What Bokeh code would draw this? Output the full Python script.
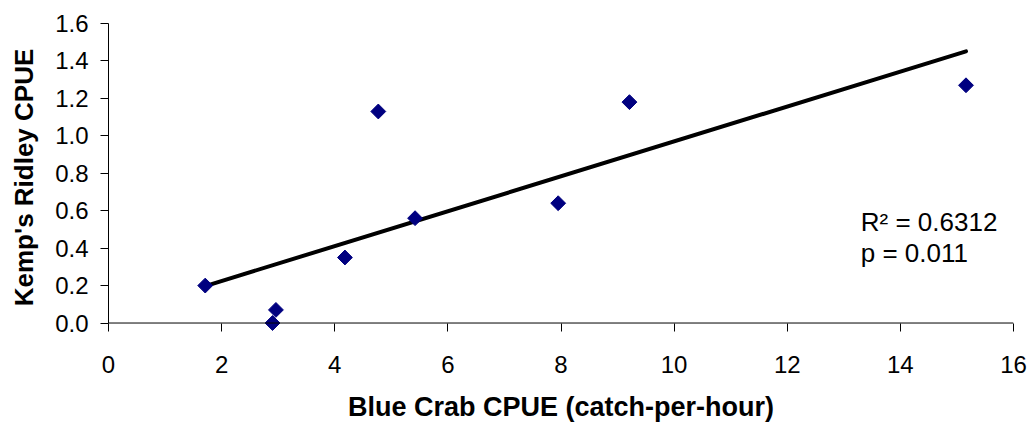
import numpy as np
from bokeh.plotting import figure
from bokeh.models import FixedTicker, NumeralTickFormatter, Range1d, Label, Span
from bokeh.embed import file_html
from bokeh.resources import INLINE

# Blue crab CPUE vs. Kemp's ridley CPUE
crab_cpue = [1.71, 2.90, 2.96, 4.18, 4.77, 5.42, 7.95, 9.21, 15.16]
ridley_cpue = [0.20, 0.00, 0.07, 0.35, 1.13, 0.56, 0.64, 1.18, 1.27]

x_ticks = [0, 2, 4, 6, 8, 10, 12, 14, 16]
y_ticks = [0.0, 0.2, 0.4, 0.6, 0.8, 1.0, 1.2, 1.4, 1.6]

r2_text = "R\u00b2 = 0.6312"
p_text = "p = 0.011"

FONT = "Liberation Sans"

# the y range dips a little below zero so markers sitting on zero are not cut;
# the visible x axis line is drawn at y = 0 and the ticks reach up to it
y_floor = -0.0453
p = figure(
    frame_width=905, frame_height=308,
    min_border_left=108, min_border_top=23, min_border_right=18, min_border_bottom=92,
    x_range=Range1d(0, 16), y_range=Range1d(y_floor, 1.6),
    output_backend="svg", toolbar_location=None, tools="",
    background_fill_color="white", border_fill_color="white",
)
p.outline_line_color = None
p.grid.visible = False

p.add_layout(Span(location=0, dimension="width", line_color="black", line_width=1))

# least-squares trend line over the observed range
slope, intercept = np.polyfit(crab_cpue, ridley_cpue, 1)
xs = [min(crab_cpue), max(crab_cpue)]
ys = [slope * v + intercept for v in xs]
p.line(xs, ys, line_color="black", line_width=4, line_cap="round")

p.scatter(crab_cpue, ridley_cpue, marker="square", angle=np.pi / 4, size=10.5,
          fill_color="#000080", line_color="#000080")

for ax in (p.xaxis[0], p.yaxis[0]):
    ax.major_tick_line_color = "black"
    ax.minor_tick_line_color = None
    ax.major_label_text_font = FONT
    ax.major_label_text_font_size = "24px"
    ax.major_label_text_color = "black"
    ax.axis_label_text_font = FONT
    ax.axis_label_text_font_style = "bold"
    ax.axis_label_text_color = "black"

p.xaxis.axis_line_color = None
p.xaxis.major_tick_out = 0
p.xaxis.major_tick_in = 8
p.yaxis.axis_line_color = "black"
p.yaxis.bounds = (0, 1.6)
p.yaxis.major_tick_out = 8
p.yaxis.major_tick_in = 0

p.xaxis.ticker = FixedTicker(ticks=x_ticks)
p.yaxis.ticker = FixedTicker(ticks=y_ticks)
p.yaxis.formatter = NumeralTickFormatter(format="0.0")
p.xaxis.formatter = NumeralTickFormatter(format="0")
p.xaxis.axis_label = "Blue Crab CPUE (catch-per-hour)"
p.yaxis.axis_label = "Kemp's Ridley CPUE"
p.xaxis.axis_label_text_font_size = "27px"
p.yaxis.axis_label_text_font_size = "26px"
p.xaxis.major_label_standoff = 24
p.yaxis.major_label_standoff = 12
p.xaxis.axis_label_standoff = 16
p.yaxis.axis_label_standoff = 13

for txt, yv in ((r2_text, 0.542), (p_text, 0.375)):
    p.add_layout(Label(x=13.3, y=yv, text=txt, text_font=FONT, text_font_size="26px",
                       text_color="black", text_baseline="alphabetic", text_align="left"))

open("out.html", "w").write(file_html(p, INLINE))
